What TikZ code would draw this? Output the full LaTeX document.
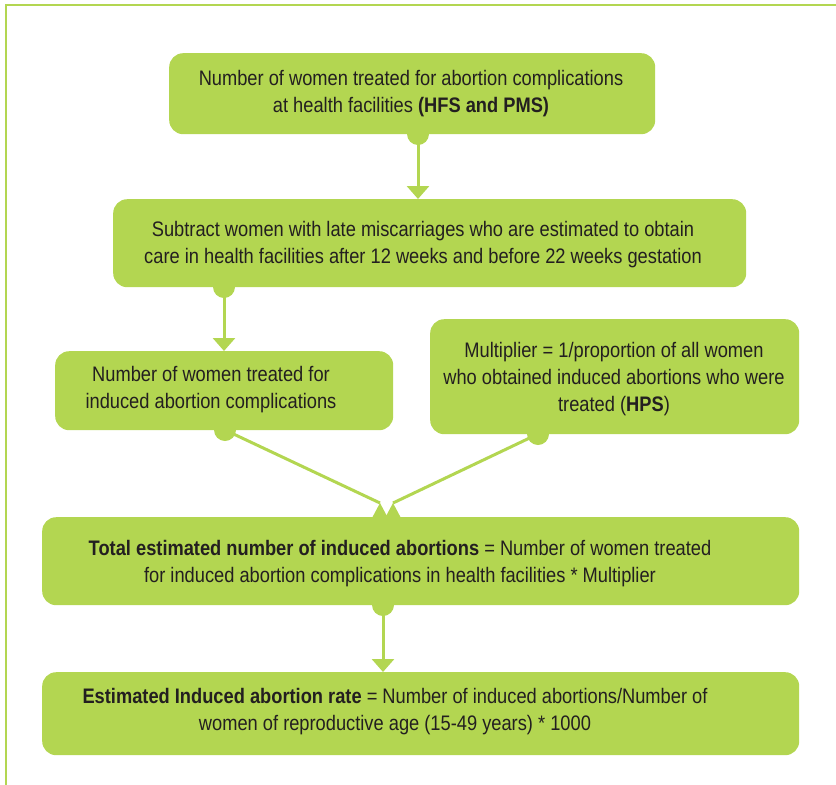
\documentclass[tikz,border=0pt]{standalone}
\usepackage{fontspec}
\setmainfont[FakeStretch=0.87]{Liberation Sans}
\usetikzlibrary{arrows.meta}
\definecolor{lg}{RGB}{179,214,81}
\definecolor{tx}{RGB}{35,31,32}
\begin{document}
\begin{tikzpicture}[x=1pt,y=-1pt,
  box/.style={fill=lg, rounded corners=14pt, inner sep=0pt, draw=none, anchor=north west},
  txt/.style={font=\fontsize{21}{27}\selectfont, text=tx, align=center, inner sep=0pt},
  conn/.style={draw=lg, line width=3pt},
  dotnode/.style={circle, fill=lg, minimum size=22pt, inner sep=0pt},
  arr/.style={conn, -{Triangle[width=22pt,length=13pt]}},
  frame/.style={draw=lg, line width=2pt}]
\useasboundingbox (0,0) rectangle (836,785);
\draw[frame] (6,785) -- (6,5) -- (836,5);

% boxes
\node[box, minimum width=486pt, minimum height=81pt] (b1) at (169,53) {};
\node[box, minimum width=633pt, minimum height=88pt] (b2) at (113,199) {};
\node[box, minimum width=338pt, minimum height=79pt] (b3) at (55,351) {};
\node[box, minimum width=369pt, minimum height=115pt] (b4) at (430,319) {};
\node[box, minimum width=757pt, minimum height=88pt] (b5) at (42,517) {};
\node[box, minimum width=757pt, minimum height=83pt] (b6) at (42,672) {};

% dots
\node[dotnode] (d1) at (418,134) {};
\node[dotnode] (d2) at (224,287) {};
\node[dotnode] (d3) at (225,430) {};
\node[dotnode] (d4) at (538,434) {};
\node[dotnode] (d5) at (383,605) {};

% arrow ends
\coordinate (e1) at (418,199);
\coordinate (e2) at (224,351);
\coordinate (e5) at (383,672);
\coordinate (pl) at (380,503);
\coordinate (pr) at (393,503);

\draw[arr] (d1.center) -- (e1);
\draw[arr] (d2.center) -- (e2);
\draw[arr] (d5.center) -- (e5);
\draw[conn] (d3.center) -- (pl);
\draw[conn] (d4.center) -- (pr);
\fill[lg] (pl) -- (372,518) -- (388,518) -- cycle;
\fill[lg] (pr) -- (385,518) -- (401,518) -- cycle;

% texts
\node[txt] (t1) at (411,94) {Number of women treated for abortion complications\\at health facilities \textbf{(HFS and PMS)}};
\node[txt] (t2) at (423,245) {Subtract women with late miscarriages who are estimated to obtain\\care in health facilities after 12 weeks and before 22 weeks gestation};
\node[txt] (t3) at (211,390) {Number of women treated for\\induced abortion complications};
\node[txt] (t4) at (614,379) {Multiplier = 1/proportion of all women\\who obtained induced abortions who were\\treated (\textbf{HPS})};
\node[txt] (t5) at (400,564) {\textbf{Total estimated number of induced abortions} = Number of women treated\\for induced abortion complications in health facilities * Multiplier};
\node[txt] (t6) at (395,712) {\textbf{Estimated Induced abortion rate} = Number of induced abortions/Number of\\women of reproductive age (15-49 years) * 1000};
\end{tikzpicture}
\end{document}
